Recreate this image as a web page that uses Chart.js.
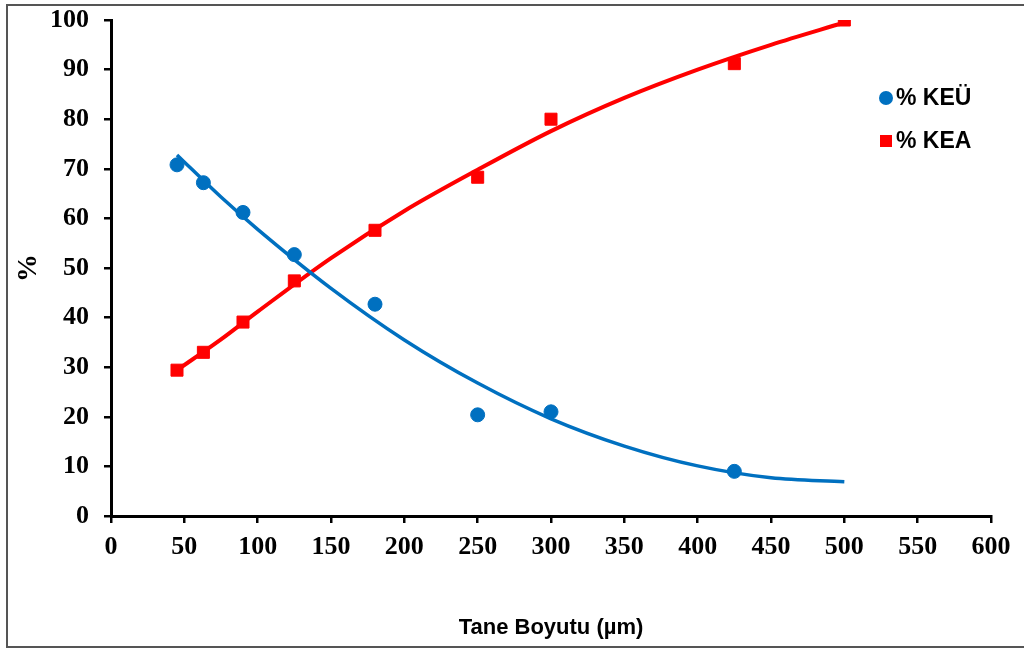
<!DOCTYPE html>
<html>
<head>
<meta charset="utf-8">
<script src="https://cdn.jsdelivr.net/npm/chart.js@4.4.1/dist/chart.umd.min.js"></script>
<style>
  html, body { margin: 0; padding: 0; background: #fff; }
  #wrap { position: relative; width: 1024px; height: 648px; }
  #frame { position: absolute; left: 6px; top: 4px; width: 1030px; height: 640px; border: 2px solid #555; box-sizing: content-box; }
  canvas { position: absolute; left: 0; top: 0; }
</style>
</head>
<body>
<div id="wrap">
  <div id="frame"></div>
  <canvas id="grafik" width="1024" height="648"></canvas>
</div>
<script>
'use strict';

// Ölçülen noktalar (tane boyutu, µm)
const boyutKEU = [45, 63, 90, 125, 180, 250, 300, 425];
const degerKEU = [70.8, 67.2, 61.2, 52.7, 42.7, 20.4, 21.0, 9.0];

const boyutKEA = [45, 63, 90, 125, 180, 250, 300, 425, 500];
const degerKEA = [29.4, 33.0, 39.1, 47.4, 57.6, 68.3, 80.0, 91.2, 100.0];

// Eğilim çizgileri
const trendX = [45, 75, 100, 150, 200, 250, 300, 350, 400, 450, 500];
const trendKEU = [72.8, 64.3, 57.8, 45.9, 35.5, 26.8, 19.6, 14.1, 10.1, 7.7, 6.9];
const trendKEA = [29.4, 35.6, 41.2, 52.0, 61.5, 69.8, 77.6, 84.3, 90.0, 95.0, 99.5];

const seriesLabels = ['% KEÜ', '% KEA'];
const xTitle = 'Tane Boyutu (µm)';
const yTitle = '%';

const BLUE = '#0070C0';
const RED = '#FF0000';

function toPoints(xs, ys) {
    return xs.map((x, i) => ({ x: x, y: ys[i] }));
}

// Sağ üstteki lejant, grafik alanının içine çizilir
const legendPlugin = {
    id: 'icLejant',
    afterDraw(chart) {
        const ctx = chart.ctx;
        const area = chart.chartArea;
        const x0 = area.right - 105;
        const items = [
            { label: seriesLabels[0], color: BLUE, shape: 'circle', y: area.top + 78 },
            { label: seriesLabels[1], color: RED, shape: 'rect', y: area.top + 121 }
        ];
        ctx.save();
        ctx.font = 'bold 23px "Liberation Sans", Arial, sans-serif';
        ctx.textBaseline = 'middle';
        items.forEach(it => {
            ctx.fillStyle = it.color;
            ctx.beginPath();
            if (it.shape === 'circle') {
                ctx.arc(x0, it.y, 7, 0, Math.PI * 2);
            } else {
                ctx.rect(x0 - 6, it.y - 6, 12, 12);
            }
            ctx.fill();
            ctx.fillStyle = '#000';
            ctx.fillText(it.label, x0 + 10, it.y + 1);
        });
        ctx.restore();
    }
};

const serifTick = { family: '"Liberation Serif", "Times New Roman", serif', size: 26, weight: 'bold' };

// Etiket taşmalarından gelen ek boşluğu kaldır
function noOverflow(scale) {
    scale.paddingTop = 0;
    scale.paddingBottom = 0;
    scale.paddingLeft = 0;
    scale.paddingRight = 0;
}

new Chart(document.getElementById('grafik').getContext('2d'), {
    type: 'scatter',
    data: {
        datasets: [
            {
                label: seriesLabels[0],
                data: toPoints(boyutKEU, degerKEU),
                backgroundColor: BLUE,
                borderColor: BLUE,
                pointStyle: 'circle',
                pointRadius: 7,
                order: 2
            },
            {
                label: seriesLabels[1],
                data: toPoints(boyutKEA, degerKEA),
                backgroundColor: RED,
                borderColor: RED,
                pointStyle: 'rect',
                pointRadius: 8.5,
                order: 2
            },
            {
                label: 'trend KEÜ',
                type: 'line',
                data: toPoints(trendX, trendKEU),
                borderColor: BLUE,
                borderWidth: 3.5,
                pointRadius: 0,
                fill: false,
                cubicInterpolationMode: 'monotone',
                order: 1
            },
            {
                label: 'trend KEA',
                type: 'line',
                data: toPoints(trendX, trendKEA),
                borderColor: RED,
                borderWidth: 4,
                pointRadius: 0,
                fill: false,
                cubicInterpolationMode: 'monotone',
                order: 1
            }
        ]
    },
    options: {
        responsive: false,
        animation: false,
        layout: { padding: { top: 20, right: 33, left: 0, bottom: 0 } },
        plugins: {
            legend: { display: false },
            tooltip: { enabled: false }
        },
        scales: {
            x: {
                type: 'linear',
                min: 0,
                max: 600,
                ticks: { stepSize: 50, color: '#000', font: serifTick, padding: 9, maxRotation: 0 },
                grid: { drawOnChartArea: false, drawTicks: true, tickLength: 7, color: '#000', lineWidth: 2.5 },
                border: { color: '#000', width: 3 },
                title: {
                    display: true,
                    text: xTitle,
                    color: '#000',
                    font: { family: '"Liberation Sans", Arial, sans-serif', size: 22, weight: 'bold' },
                    padding: { top: 0, bottom: 7 }
                },
                afterFit(scale) { scale.height = 132; noOverflow(scale); }
            },
            y: {
                type: 'linear',
                min: 0,
                max: 100,
                ticks: { stepSize: 10, color: '#000', font: serifTick, padding: 15 },
                grid: { drawOnChartArea: false, drawTicks: true, tickLength: 7, color: '#000', lineWidth: 2.5 },
                border: { color: '#000', width: 3 },
                title: {
                    display: true,
                    text: yTitle,
                    color: '#000',
                    font: { family: '"Liberation Serif", "Times New Roman", serif', size: 28, weight: 'bold' },
                    padding: { top: 12, bottom: 0 }
                },
                afterFit(scale) { scale.width = 111; noOverflow(scale); }
            }
        }
    },
    plugins: [legendPlugin]
});
</script>
</body>
</html>
